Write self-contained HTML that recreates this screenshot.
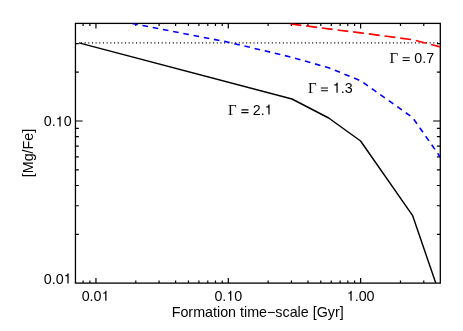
<!DOCTYPE html>
<html><head><meta charset="utf-8">
<style>
html,body{margin:0;padding:0;background:#fff;}
body{width:463px;height:331px;overflow:hidden;}
svg{display:block;}
text{font-family:"Liberation Sans",sans-serif;font-size:14.3px;fill:#000;font-kerning:none;}
.tx{opacity:0.999;}
text.s{font-family:"Liberation Serif",serif;font-size:15px;}
</style></head><body>
<svg width="463" height="331" viewBox="0 0 463 331">
<rect width="463" height="331" fill="#fff"/>
<defs><clipPath id="c"><rect x="75.45" y="23.4" width="364.85" height="259.70000000000005"/></clipPath></defs>
<g fill="none" stroke="#000" stroke-width="1.3">
<rect x="75.45" y="23.4" width="364.85" height="259.70"/>
<path d="M83.12 283.10v-2.6M83.12 23.40v2.6M89.89 283.10v-2.6M89.89 23.40v2.6M95.95 283.10v-5.2M95.95 23.40v5.2M135.79 283.10v-2.6M135.79 23.40v2.6M159.09 283.10v-2.6M159.09 23.40v2.6M175.62 283.10v-2.6M175.62 23.40v2.6M188.45 283.10v-2.6M188.45 23.40v2.6M198.93 283.10v-2.6M198.93 23.40v2.6M207.79 283.10v-2.6M207.79 23.40v2.6M215.46 283.10v-2.6M215.46 23.40v2.6M222.23 283.10v-2.6M222.23 23.40v2.6M228.29 283.10v-5.2M228.29 23.40v5.2M268.12 283.10v-2.6M268.12 23.40v2.6M291.43 283.10v-2.6M291.43 23.40v2.6M307.96 283.10v-2.6M307.96 23.40v2.6M320.79 283.10v-2.6M320.79 23.40v2.6M331.27 283.10v-2.6M331.27 23.40v2.6M340.13 283.10v-2.6M340.13 23.40v2.6M347.80 283.10v-2.6M347.80 23.40v2.6M354.57 283.10v-2.6M354.57 23.40v2.6M360.62 283.10v-5.2M360.62 23.40v5.2M400.46 283.10v-2.6M400.46 23.40v2.6M423.77 283.10v-2.6M423.77 23.40v2.6M75.45 234.30h3.4M440.30 234.30h-3.4M75.45 205.76h3.4M440.30 205.76h-3.4M75.45 185.50h3.4M440.30 185.50h-3.4M75.45 169.79h3.4M440.30 169.79h-3.4M75.45 156.96h3.4M440.30 156.96h-3.4M75.45 146.11h3.4M440.30 146.11h-3.4M75.45 136.71h3.4M440.30 136.71h-3.4M75.45 128.41h3.4M440.30 128.41h-3.4M75.45 121.00h7.2M440.30 121.00h-7.2M75.45 72.20h3.4M440.30 72.20h-3.4M75.45 43.65h3.4M440.30 43.65h-3.4" stroke-width="1.2"/>
</g>
<g fill="none" clip-path="url(#c)" stroke-linejoin="round">
<path d="M79 42.95H441" stroke="#000" stroke-width="1.25" stroke-dasharray="1.05 2.62" stroke-dashoffset="1.71"/>
<path d="M79 42.9L292 99L328.7 118L360.6 141L412.5 215.3L436.1 284" stroke="#000" stroke-width="1.45"/>
<path d="M132.3 23.5L228.35 42.2L292 57.3L328.7 67.8L360.6 80.7L412.6 117.6L442 159.5" stroke="#0000ff" stroke-width="1.6" stroke-dasharray="5.6 4.8"/>
<path d="M290.5 23.9L328.7 28.9L360.7 32.8L413 39.8L444 47.8" stroke="#ff0000" stroke-width="1.7" stroke-dasharray="10.9 4.9"/>
</g>
<g class="tx">
<text x="81.64" y="300.8">0.0</text><path d="M259 0V-505H102V-568C205 -570 250 -600 285 -709H347V0Z" transform="translate(101.51 300.8) scale(0.01430)"/>
<text x="214.42" y="300.8">0.</text><path d="M259 0V-505H102V-568C205 -570 250 -600 285 -709H347V0Z" transform="translate(226.35 300.8) scale(0.01430)"/><text x="234.30" y="300.8">0</text>
<path d="M259 0V-505H102V-568C205 -570 250 -600 285 -709H347V0Z" transform="translate(346.71 300.8) scale(0.01430)"/><text x="354.66" y="300.8">.00</text>
<text x="43.77" y="126.4">0.</text><path d="M259 0V-505H102V-568C205 -570 250 -600 285 -709H347V0Z" transform="translate(55.70 126.4) scale(0.01430)"/><text x="63.65" y="126.4">0</text>
<text x="43.77" y="283.5">0.0</text><path d="M259 0V-505H102V-568C205 -570 250 -600 285 -709H347V0Z" transform="translate(63.65 283.5) scale(0.01430)"/>
<text class="s" x="389.6" y="62.5">Γ</text><path d="M50 -102H548V-177H50ZM50 -291H548V-366H50Z" transform="translate(401.90 62.5) scale(0.01430)"/><text x="414.23" y="62.5">0.7</text>
<text class="s" x="308.1" y="92.7">Γ</text><path d="M50 -102H548V-177H50ZM50 -291H548V-366H50Z" transform="translate(320.15 92.7) scale(0.01430)"/><path d="M259 0V-505H102V-568C205 -570 250 -600 285 -709H347V0Z" transform="translate(332.73 92.7) scale(0.01430)"/><text x="340.68" y="92.7">.3</text>
<text class="s" x="228.1" y="114.6">Γ</text><path d="M50 -102H548V-177H50ZM50 -291H548V-366H50Z" transform="translate(240.65 114.6) scale(0.01430)"/><text x="252.73" y="114.6">2.</text><path d="M259 0V-505H102V-568C205 -570 250 -600 285 -709H347V0Z" transform="translate(264.65 114.6) scale(0.01430)"/>
<text x="257.7" y="316.6" text-anchor="middle">Formation time−scale [Gyr]</text>
<text transform="translate(32.6 153) rotate(-90)" text-anchor="middle">[Mg/Fe]</text>
</g>
</svg>
</body></html>
